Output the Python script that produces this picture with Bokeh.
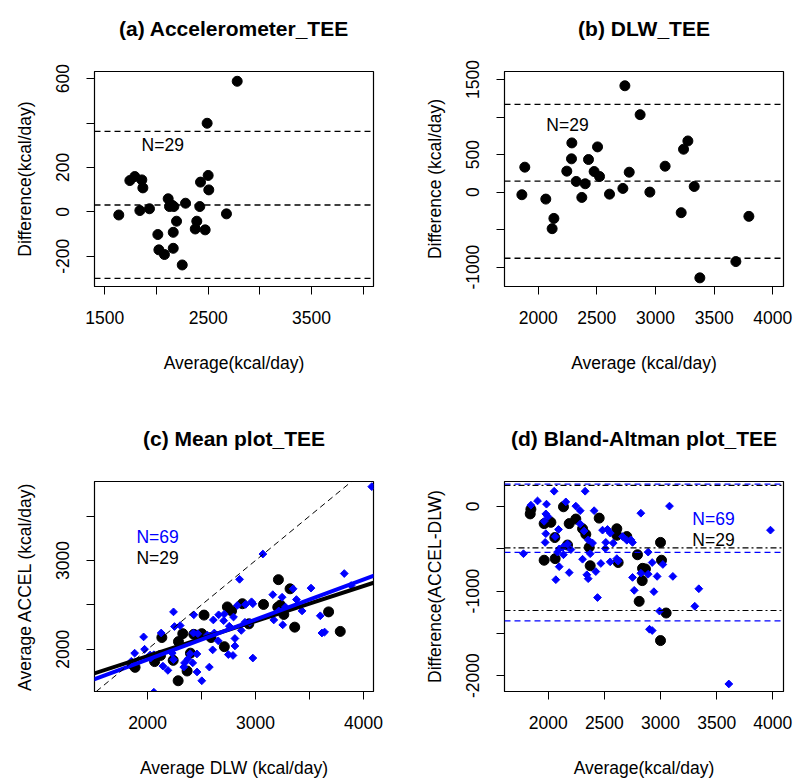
import numpy as np
from bokeh.plotting import figure
from bokeh.models import Span, Slope, Label, Range1d, FixedTicker, Title
from bokeh.layouts import row, column
from bokeh.embed import file_html
from bokeh.resources import INLINE

# ---------------- data ----------------
# (a) Accelerometer_TEE : average vs difference
a_avg = [1635, 1742, 1790, 1858, 1868, 1839, 1932, 2013, 2023, 2077, 2113, 2126, 2168, 2150,
         2162, 2194, 2162, 2249, 2281, 2419, 2426, 2500, 2506, 2390, 2375, 2471, 2677, 2781, 2490]
a_diff = [-14, 141, 159, 144, 108, 6, 14, -102, -171, -192, 59, 24, 24, 30,
          -92, -42, -164, -239, 39, 24, 134, 164, 99, -42, -77, -81, -9, 588, 399]
a_limits = [362, 31, -299]

# (b) DLW_TEE
b_avg = [2739, 2869, 1886, 1861, 2065, 2134, 2119, 2244, 2287, 2284, 2324, 2372, 2401, 2429, 2477,
         2506, 2523, 2608, 2722, 2776, 2952, 3082, 3219, 3239, 3276, 3330, 3378, 3685, 3796]
b_diff = [1416, 1031, 332, -35, -93, -350, -487, 279, 655, 443, 142, -71, 111, 434, 274,
          602, 208, -27, 49, 265, 0, 345, -274, 571, 681, 75, -1142, -925, -323]
b_limits = [1168, 146, -881]

# (c) Mean plot: average DLW vs average ACCEL
c_dlw_29 = [3212, 3320, 2739, 2778, 2878, 3074, 3231, 3206, 3262, 2938, 3363, 3677, 3785, 2523, 2132,
            2326, 2428, 2502, 2286, 2588, 2397, 2711, 2237, 2065, 1884, 2366, 2283, 2120, 1861]
c_acc_29 = [2784, 2681, 2477, 2432, 2513, 2505, 2498, 2474, 2392, 2286, 2249, 2421, 2201, 2385, 2132,
            2176, 2168, 2176, 2086, 2132, 1956, 2029, 1875, 1861, 1796, 1755, 1645, 1930, 1830]
c_dlw_69 = [2240, 2428, 2658, 2609, 2711, 2249, 2302, 1963, 2126, 2425, 1972, 1880, 1849, 2028, 2058,
            2240, 2142, 2188, 2342, 2335, 2372, 2418, 2458, 2502, 2572, 2603, 2618, 2757, 2058, 2705,
            2852, 3068, 3822, 4077, 3514, 3348, 3246, 3160, 3379, 2963, 2975, 2908, 2831, 3277, 3215,
            3431, 3600, 3169, 3252, 2902, 2868, 2809, 2809, 2791, 2975, 3615, 3640, 3886,
            2466, 2554, 2796, 2394, 2457, 2654, 2748, 2947, 2228, 2023, 4657]
c_acc_69 = [2421, 2388, 2388, 2330, 2396, 2256, 2267, 2139, 2183, 2183, 2000, 1956, 1864, 1901, 1938,
            1883, 1810, 1762, 1846, 1799, 1890, 1846, 1744, 1645, 1799, 1993, 2183, 2260, 1516, 2322,
            2788, 3073, 2853, 3832, 2689, 2681, 2586, 2615, 2560, 2535, 2513, 2505, 2494, 2476, 2432,
            2432, 2377, 2330, 2275, 2304, 2212, 2121, 2037, 1930, 1901, 2183, 2194, 2718,
            2175, 2159, 2363, 1950, 1947, 2095, 1940, 2300, 1956, 1935, 2558]
c_fit_29 = [1133, 0.395]     # intercept, slope
c_fit_69 = [983, 0.4507]

# (d) Bland-Altman plot
d_avg_29 = [1846, 1840, 1964, 2024, 2059, 2136, 2187, 2246, 2306, 2335, 2365, 2454, 2172, 1964, 2062,
            2374, 2611, 2611, 2623, 2700, 2795, 2840, 2810, 3000, 3009, 2866, 2837, 3050, 3000]
d_diff_29 = [-34, -88, -203, -188, -368, -4, -203, -149, -264, -329, -483, -138, -456, -636, -617,
             -701, -264, -341, -663, -356, -571, -732, -1122, -425, -636, -739, -877, -1260, -1586]
d_avg_69 = [2053, 2329, 1905, 1846, 1985, 2157, 2246, 2285, 1979, 2409, 1964, 2092, 1979, 1973, 2285,
            2320, 2356, 2395, 2484, 2528, 2513, 2579, 2662, 2736, 2751, 2172, 2098, 2083, 2202, 2136,
            2306, 2374, 2469, 2424, 2344, 2356, 2187, 2098, 2068, 2552, 2611, 2623, 2751, 2766, 2439,
            1780, 2825, 2825, 3080, 3979, 2890, 2926, 3021, 2890, 2970, 3110, 2941, 3341, 3305, 2991,
            2902, 2926, 3608, 2553, 2508, 1998, 2131, 2700, 2062]
d_diff_69 = [180, 180, 65, 15, 27, 54, 4, -50, -88, -50, -176, -272, -322, -425, -207,
             -291, -395, -433, -280, -272, -425, -433, -356, -395, -425, -444, -502, -540, -510, -571,
             -624, -559, -674, -770, -808, -854, -782, -712, -866, -655, -617, -647, -839, -992, -1077,
             -559, -80, -789, 4, -280, -540, -663, -686, -801, -827, -827, -1008, -973, -1180, -1237,
             -1452, -1467, -2099, -315, -497, -120, -482, -400, -357]
d_limits_29 = [249, -490, -1230]
d_limits_69 = [264, -544, -1352]

FONT = "Liberation Sans"
BLUE = "#0000FF"
FS = "17.5px"


def make_fig(w, h, left, right, top, bottom, xr, yr, xticks, xshow, yticks, yshow,
             title, xlabel, ylabel):
    p = figure(width=w, height=h, x_range=Range1d(*xr), y_range=Range1d(*yr),
               output_backend="svg", toolbar_location=None, title=None,
               min_border_left=left, min_border_right=right,
               min_border_top=top, min_border_bottom=bottom)
    # spacer between frame and title, then the title itself
    p.add_layout(Title(text=" ", text_font=FONT, text_font_size="10px", standoff=19), "above")
    p.add_layout(Title(text=title, text_font=FONT, text_font_size="21px", text_font_style="bold",
                       text_color="black", align="center", standoff=0), "above")
    p.grid.visible = False
    p.background_fill_color = "white"
    p.border_fill_color = "white"
    p.outline_line_color = "black"
    p.outline_line_width = 1.2
    for ax, ticks, show in ((p.xaxis[0], xticks, xshow), (p.yaxis[0], yticks, yshow)):
        ax.ticker = FixedTicker(ticks=ticks)
        ax.major_label_overrides = {t: (str(t) if t in show else "") for t in ticks}
        ax.minor_tick_line_color = None
        ax.major_tick_in = 0
        ax.major_tick_out = 8
        ax.axis_line_color = "black"
        ax.major_tick_line_color = "black"
        ax.major_label_text_font = FONT
        ax.major_label_text_font_size = FS
        ax.major_label_text_color = "black"
        ax.axis_label_text_font = FONT
        ax.axis_label_text_font_size = FS
        ax.axis_label_text_font_style = "normal"
        ax.axis_label_text_color = "black"
    p.xaxis[0].axis_label = xlabel
    p.yaxis[0].axis_label = ylabel
    p.xaxis[0].major_label_standoff = 16
    p.xaxis[0].axis_label_standoff = 26
    p.yaxis[0].major_label_orientation = "vertical"
    p.yaxis[0].major_label_standoff = 17
    p.yaxis[0].axis_label_standoff = 19
    return p


def note(p, x, y, text, color="black"):
    p.add_layout(Label(x=x, y=y, text=text, text_align="center", text_baseline="middle",
                       text_font=FONT, text_font_size=FS, text_color=color))


# (a)
fa = make_fig(400, 390, 94, 27, 71, 104, (1400, 4100), (-336, 632),
              [1500, 2000, 2500, 3000, 3500, 4000], [1500, 2500, 3500],
              [-200, 0, 200, 400, 600], [-200, 0, 200, 600],
              "(a) Accelerometer_TEE", "Average(kcal/day)", "Difference(kcal/day)")
for v in a_limits:
    fa.add_layout(Span(location=v, dimension="width", line_color="black",
                       line_dash="6 4", line_width=1.3))
fa.scatter(a_avg, a_diff, marker="circle", size=10, color="black")
note(fa, 2060, 300, "N=29")

# (b)
fb = make_fig(393, 390, 104, 10, 71, 104, (1713, 4091), (-1257, 1606),
              [2000, 2500, 3000, 3500, 4000], [2000, 2500, 3000, 3500, 4000],
              [-1000, -500, 0, 500, 1000, 1500], [-1000, 0, 500, 1500],
              "(b) DLW_TEE", "Average (kcal/day)", "Difference (kcal/day)")
for v in b_limits:
    fb.add_layout(Span(location=v, dimension="width", line_color="black",
                       line_dash="6 4", line_width=1.3))
fb.scatter(b_avg, b_diff, marker="circle", size=10, color="black")
note(fb, 2250, 900, "N=29")

# (c)
fc = make_fig(400, 390, 94, 27, 91, 84, (1508, 4093), (1524, 3890),
              [2000, 2500, 3000, 3500, 4000], [2000, 3000, 4000],
              [2000, 2500, 3000, 3500], [2000, 3000],
              "(c) Mean plot_TEE", "Average DLW (kcal/day)", "Average ACCEL (kcal/day)")
fc.scatter(c_dlw_29, c_acc_29, marker="circle", size=10, color="black")
fc.scatter(c_dlw_69, c_acc_69, marker="square", angle=np.pi / 4, size=5.5, color=BLUE)
fc.add_layout(Slope(gradient=c_fit_29[1], y_intercept=c_fit_29[0], line_color="black", line_width=4))
fc.add_layout(Slope(gradient=c_fit_69[1], y_intercept=c_fit_69[0], line_color=BLUE, line_width=4))
fc.add_layout(Slope(gradient=1, y_intercept=0, line_color="black", line_width=1, line_dash="6 4"))
note(fc, 2093, 3260, "N=69", BLUE)
note(fc, 2093, 3029, "N=29")

# (d)
fd = make_fig(393, 390, 104, 10, 91, 83, (1611, 4095), (-2188, 295),
              [2000, 2500, 3000, 3500, 4000], [2000, 2500, 3000, 3500, 4000],
              [-2000, -1500, -1000, -500, 0], [-2000, -1000, 0],
              "(d) Bland-Altman plot_TEE", "Average(kcal/day)", "Difference(ACCEL-DLW)")
fd.scatter(d_avg_29, d_diff_29, marker="circle", size=10, color="black")
fd.scatter(d_avg_69, d_diff_69, marker="square", angle=np.pi / 4, size=5.5, color=BLUE)
for v in d_limits_29:
    fd.add_layout(Span(location=v, dimension="width", line_color="black",
                       line_dash="6 3 2 3", line_width=1.2))
for v in d_limits_69:
    fd.add_layout(Span(location=v, dimension="width", line_color=BLUE,
                       line_dash="6 4", line_width=1.2))
note(fd, 3472, -149, "N=69", BLUE)
note(fd, 3472, -395, "N=29")

layout = column(row(fa, fb), row(fc, fd))
open("out.html", "w").write(file_html(layout, INLINE))
